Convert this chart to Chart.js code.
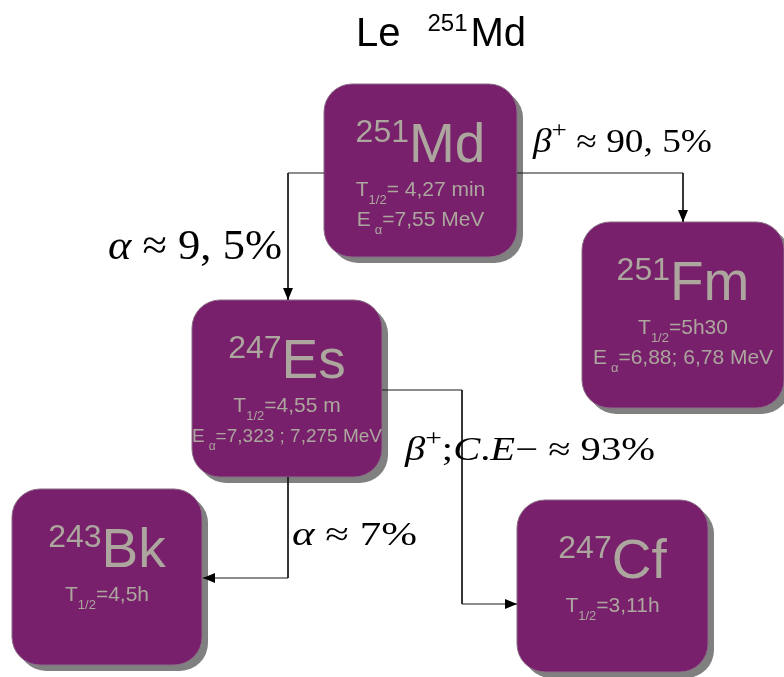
<!DOCTYPE html>
<html lang="fr">
<head>
  <meta charset="utf-8">
  <title>Le 251Md</title>
  <style type="text/css">
    body {
      margin: 0;
      background-color: #ffffff;
    }
    #wrap {
      width: 784px;
      height: 677px;
      position: relative;
    }
  </style>
  <script src="https://cdn.jsdelivr.net/npm/chart.js@4.4.1/dist/chart.umd.min.js"></script>
</head>
<body>
  <div id="wrap"><canvas id="graph"></canvas></div>
  <script>
    // data
    const nuclides = ['Md', 'Es', 'Fm', 'Bk', 'Cf'];
    const massNumbers = [251, 247, 251, 243, 247];
    const halfLives = ['= 4,27 min', '=4,55 m', '=5h30', '=4,5h', '=3,11h'];
    const alphaEnergies = ['=7,55 MeV', '=7,323 ; 7,275 MeV', '=6,88; 6,78 MeV', null, null];
    const branchFrom = ['Md', 'Md', 'Es', 'Es'];
    const branchTo = ['Es', 'Fm', 'Bk', 'Cf'];
    const branchLabels = ['α ≈ 9, 5%', 'β^+ ≈ 90, 5%', 'α ≈ 7%', 'β^+;C.E− ≈ 93%'];

    // layout (page pixels, y down)
    const boxes = [
      { x: 324, y: 84, w: 193, h: 173 },
      { x: 192, y: 300, w: 190, h: 177 },
      { x: 582, y: 222, w: 202, h: 186 },
      { x: 12, y: 489, w: 190, h: 176 },
      { x: 517, y: 500, w: 191, h: 172 }
    ];
    const routes = [
      [[324, 173], [288, 173], [288, 300]],
      [[517, 173], [683, 173], [683, 222]],
      [[288, 477], [288, 578], [203, 578]],
      [[382, 390], [462, 390], [462, 604], [517, 604]]
    ];
    // x, baseline, font size, width
    const labelPos = [[108, 259, 42, 174], [533, 152, 33, 179], [292, 545, 33, 125], [405, 460, 33, 250]];

    const SANS = '"Liberation Sans", Arial, sans-serif';
    const SERIF = '"Liberation Serif", "DejaVu Serif", serif';
    const BOX = '#78206b';
    const INK = '#aca69e';

    function measureRuns(ctx, runs) {
      var total = 0;
      runs.forEach(function (r) {
        ctx.font = r.font;
        r.w = ctx.measureText(r.t).width + (r.gap || 0);
        total += r.w;
      });
      return total;
    }

    function drawRuns(ctx, runs, x, baseline, align) {
      var total = measureRuns(ctx, runs);
      var cx = align === 'center' ? x - total / 2 : x;
      runs.forEach(function (r) {
        ctx.font = r.font;
        ctx.fillText(r.t, cx, baseline + (r.dy || 0));
        cx += r.w;
      });
      return total;
    }

    // split a math label into upright / italic / superscript runs
    function mathRuns(str, size) {
      var runs = [];
      for (var i = 0; i < str.length; i++) {
        var c = str[i];
        var r;
        if (c === '^') {
          i++;
          r = { t: str[i], font: Math.round(size * 0.72) + 'px ' + SERIF, dy: -size * 0.45, kind: 's' };
        } else if (/[A-Za-zα-ω]/.test(c)) {
          r = { t: c, font: 'italic ' + size + 'px ' + SERIF, kind: 'i' };
        } else {
          r = { t: c, font: size + 'px ' + SERIF, kind: 'u' };
        }
        var last = runs[runs.length - 1];
        if (last && last.kind === r.kind && r.kind !== 's') {
          last.t += r.t;
        } else {
          runs.push(r);
        }
      }
      return runs;
    }

    const diagram = {
      id: 'diagram',
      beforeDatasetsDraw(chart) {
        const ctx = chart.ctx;
        const sx = chart.scales.x, sy = chart.scales.y;
        ctx.save();
        nuclides.forEach(function (n, i) {
          const b = boxes[i];
          const x0 = sx.getPixelForValue(b.x), x1 = sx.getPixelForValue(b.x + b.w);
          const y0 = sy.getPixelForValue(b.y), y1 = sy.getPixelForValue(b.y + b.h);
          ctx.fillStyle = '#808080';
          ctx.beginPath();
          ctx.roundRect(x0 + 6, y0 + 6, x1 - x0, y1 - y0, 28);
          ctx.fill();
          ctx.fillStyle = BOX;
          ctx.strokeStyle = '#8a6b85';
          ctx.lineWidth = 1;
          ctx.beginPath();
          ctx.roundRect(x0, y0, x1 - x0, y1 - y0, 28);
          ctx.fill();
          ctx.stroke();

          const cx = (x0 + x1) / 2;
          ctx.fillStyle = INK;
          ctx.textBaseline = 'alphabetic';
          ctx.textAlign = 'left';
          drawRuns(ctx, [
            { t: String(massNumbers[i]), font: '32px ' + SANS, dy: -20 },
            { t: n, font: '55px ' + SANS }
          ], cx, y0 + 78, 'center');
          drawRuns(ctx, [
            { t: 'T', font: '21px ' + SANS },
            { t: '1/2', font: '13px ' + SANS, dy: 8 },
            { t: halfLives[i], font: '21px ' + SANS }
          ], cx, y0 + 112, 'center');
          if (alphaEnergies[i]) {
            var size = 21;
            ctx.font = size + 'px ' + SANS;
            while (ctx.measureText('E  ' + alphaEnergies[i]).width > (x1 - x0) + 2 && size > 12) {
              size -= 0.5;
              ctx.font = size + 'px ' + SANS;
            }
            drawRuns(ctx, [
              { t: 'E', font: size + 'px ' + SANS, gap: 4 },
              { t: 'α', font: Math.round(size * 0.62) + 'px ' + SANS, dy: 8 },
              { t: alphaEnergies[i], font: size + 'px ' + SANS }
            ], cx, y0 + 142, 'center');
          }
        });
        ctx.restore();
      },
      afterDatasetsDraw(chart) {
        const ctx = chart.ctx;
        const sx = chart.scales.x, sy = chart.scales.y;
        ctx.save();
        // arrow heads
        ctx.fillStyle = '#000000';
        chart.data.datasets.forEach(function (ds) {
          const pts = ds.data;
          const a = pts[pts.length - 2], t = pts[pts.length - 1];
          const ax = sx.getPixelForValue(a.x), ay = sy.getPixelForValue(a.y);
          const tx = sx.getPixelForValue(t.x), ty = sy.getPixelForValue(t.y);
          const ang = Math.atan2(ty - ay, tx - ax);
          const L = 12, W = 5;
          ctx.beginPath();
          ctx.moveTo(tx, ty);
          ctx.lineTo(tx - L * Math.cos(ang) - W * Math.sin(ang), ty - L * Math.sin(ang) + W * Math.cos(ang));
          ctx.lineTo(tx - L * Math.cos(ang) + W * Math.sin(ang), ty - L * Math.sin(ang) - W * Math.cos(ang));
          ctx.closePath();
          ctx.fill();
        });
        // branch labels, stretched to the width of the original math typesetting
        ctx.textAlign = 'left';
        ctx.textBaseline = 'alphabetic';
        branchLabels.forEach(function (lab, i) {
          const p = labelPos[i];
          const runs = mathRuns(lab, p[2]);
          const natural = measureRuns(ctx, runs);
          ctx.save();
          ctx.translate(sx.getPixelForValue(p[0]), sy.getPixelForValue(p[1]));
          ctx.scale(p[3] / natural, 1);
          drawRuns(ctx, runs, 0, 0, 'left');
          ctx.restore();
        });
        // title
        ctx.fillStyle = '#000000';
        drawRuns(ctx, [
          { t: 'Le', font: '40px ' + SANS, gap: 27 },
          { t: '251', font: '24px ' + SANS, dy: -15, gap: 3 },
          { t: 'Md', font: '40px ' + SANS }
        ], sx.getPixelForValue(441), sy.getPixelForValue(46), 'center');
        ctx.restore();
      }
    };

    const datasets = routes.map(function (r, i) {
      return {
        label: branchFrom[i] + ' → ' + branchTo[i],
        data: r.map(function (p) { return { x: p[0], y: p[1] }; }),
        showLine: true,
        borderColor: '#1a1a1a',
        borderWidth: 1,
        pointRadius: 0,
        tension: 0,
        clip: false
      };
    });

    new Chart(document.getElementById('graph'), {
      type: 'scatter',
      data: { datasets: datasets },
      options: {
        responsive: true,
        maintainAspectRatio: false,
        animation: false,
        layout: { padding: 0 },
        plugins: {
          legend: { display: false },
          tooltip: { enabled: false }
        },
        scales: {
          x: { type: 'linear', min: 0, max: 784, display: false },
          y: { type: 'linear', min: 0, max: 677, reverse: true, display: false }
        }
      },
      plugins: [diagram]
    });
  </script>
</body>
</html>
